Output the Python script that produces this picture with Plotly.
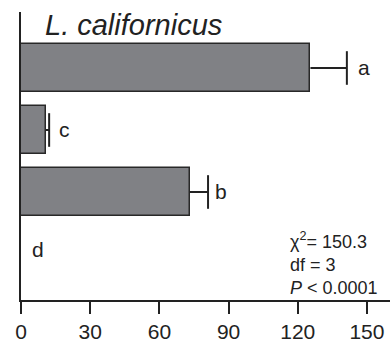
import plotly.graph_objects as go

categories = ["a", "c", "b", "d"]
cat_pos = [3, 2, 1, 0]
values = [125.5, 10.8, 73.2, 0.0]
errors = [15.8, 1.4, 7.9, 0.0]
letters = ["a", "c", "b", "d"]
x_ticks = [0, 30, 60, 90, 120, 150]

FONT = "Liberation Sans, Arial, sans-serif"
INK = "#222222"

fig = go.Figure()
fig.add_trace(go.Bar(
    y=cat_pos, x=values, orientation="h", width=0.76,
    marker=dict(color="rgb(128,129,133)",
                line=dict(color="rgb(40,40,40)", width=[1.5 if v > 0 else 0 for v in values])),
    showlegend=False, hoverinfo="skip",
))

# error bars: stems and end caps (only for bars with an error)
sx, sy, cx, cy = [], [], [], []
for p, v, e in zip(cat_pos, values, errors):
    if e > 0:
        sx += [v, v + e, None]
        sy += [p, p, None]
        cx.append(v + e)
        cy.append(p)
fig.add_trace(go.Scatter(x=sx, y=sy, mode="lines", line=dict(color=INK, width=2),
                         showlegend=False, hoverinfo="skip"))
fig.add_trace(go.Scatter(x=cx, y=cy, mode="markers",
                         marker=dict(symbol="line-ns", size=24, line=dict(color=INK, width=2)),
                         showlegend=False, hoverinfo="skip"))

shifts = [9, 8, 5, 9]
for p, v, e, t, s in zip(cat_pos, values, errors, letters, shifts):
    fig.add_annotation(x=v + e, y=p, text=t, showarrow=False, xanchor="left",
                       yanchor="middle", xshift=s, yshift=(4 if t == "d" else 0),
                       font=dict(family=FONT, size=21, color=INK))

fig.add_annotation(x=9.4, y=3.69, text="<i>L. californicus</i>", showarrow=False,
                   xanchor="left", yanchor="middle",
                   font=dict(family=FONT, size=29, color=INK))

fig.add_annotation(x=115.6, y=-0.15, text="χ<sup>2</sup>= 150.3<br>df = 3<br><i>P</i> &lt; 0.0001",
                   showarrow=False, xanchor="left", yanchor="middle", align="left",
                   font=dict(family=FONT, size=18, color=INK))

fig.update_xaxes(range=[0, 160], tickvals=x_ticks, ticktext=[str(v) for v in x_ticks],
                 ticks="outside", ticklen=12, tickwidth=2, tickcolor=INK,
                 showline=True, linewidth=2, linecolor=INK, showgrid=False, zeroline=False,
                 tickfont=dict(family=FONT, size=21, color=INK))
fig.update_yaxes(range=[-0.742, 3.903], showticklabels=False, ticks="",
                 showline=True, linewidth=2, linecolor=INK, showgrid=False, zeroline=False)

fig.update_layout(width=391, height=343, margin=dict(l=21, r=1, t=12, b=43),
                  paper_bgcolor="white", plot_bgcolor="white", bargap=0)

fig.write_html("out.html")
